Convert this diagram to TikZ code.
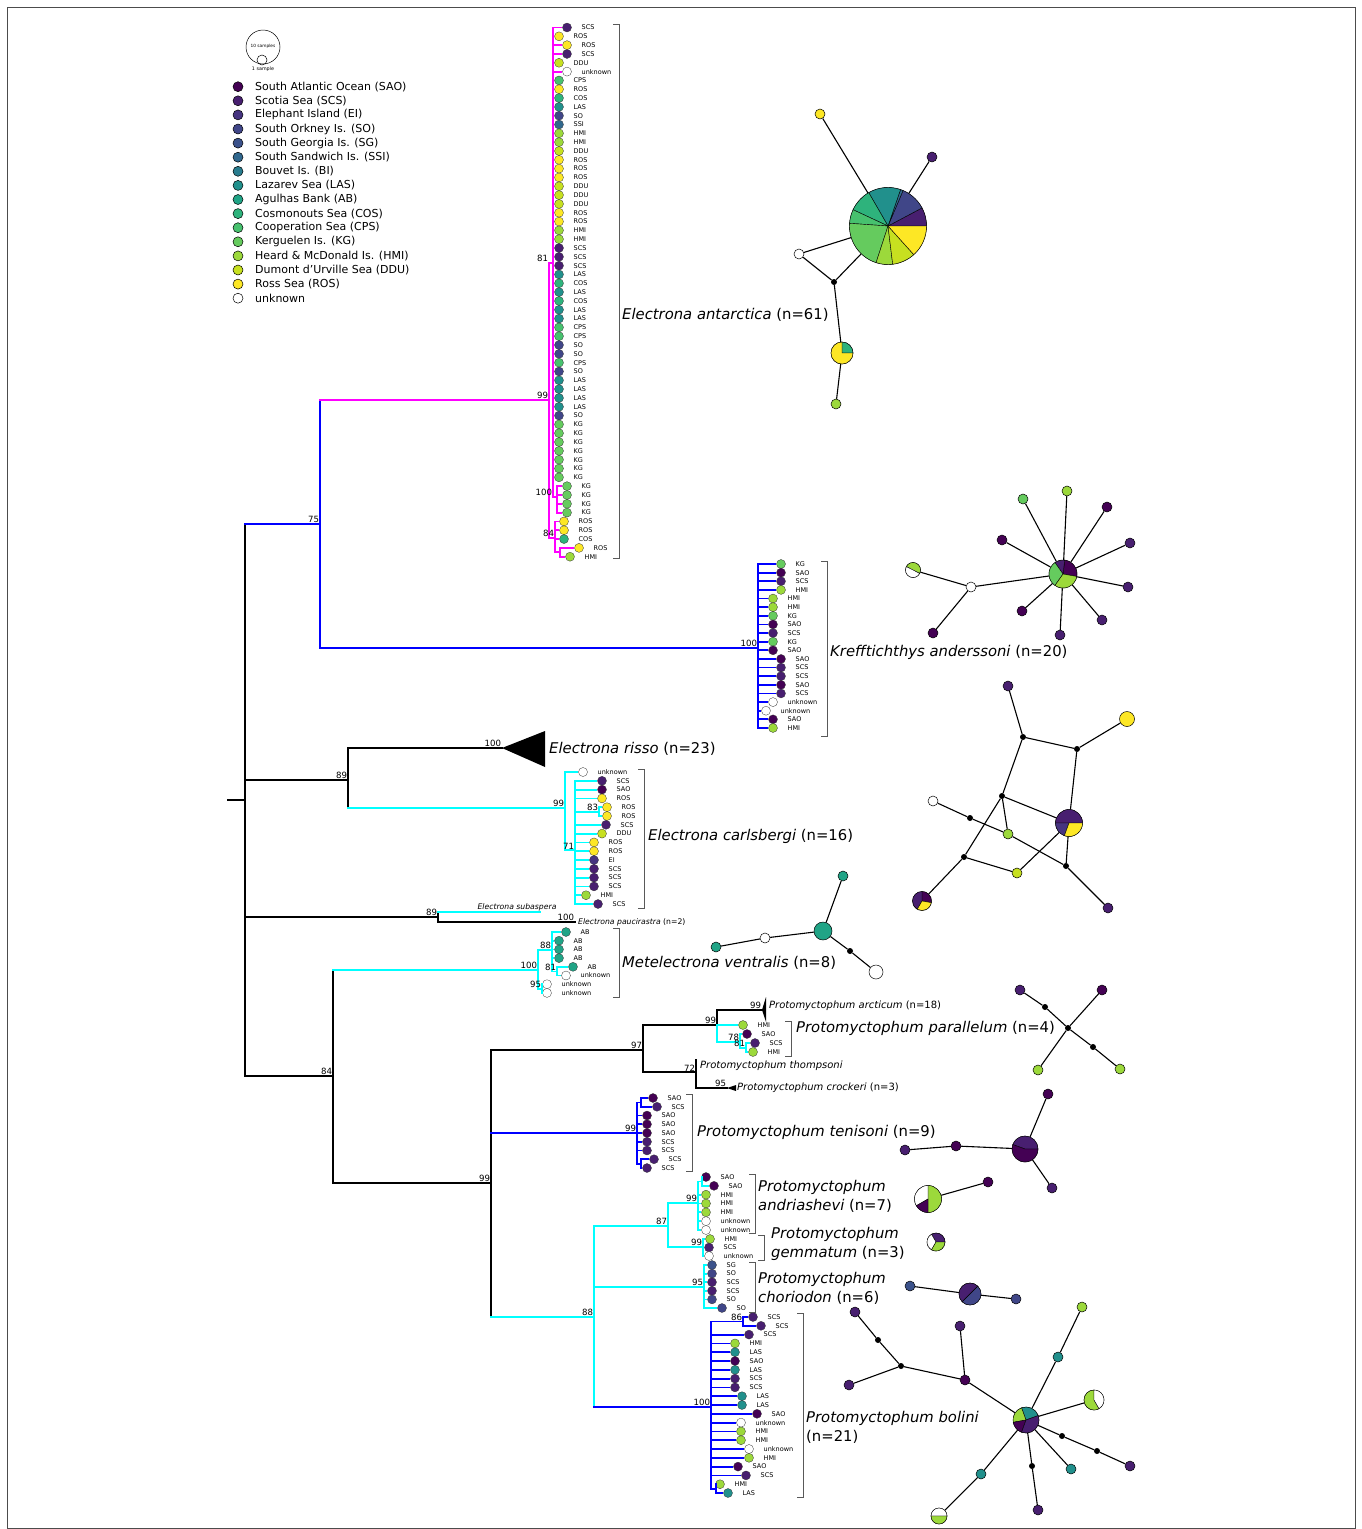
\documentclass[tikz,border=0pt]{standalone}
\usepackage{fontspec}
\setmainfont{DejaVu Sans}
\definecolor{cSAO}{HTML}{440154}
\definecolor{cSCS}{HTML}{481F70}
\definecolor{cEI}{HTML}{463480}
\definecolor{cSO}{HTML}{404688}
\definecolor{cSG}{HTML}{3B528B}
\definecolor{cSSI}{HTML}{31688E}
\definecolor{cBI}{HTML}{287C8E}
\definecolor{cLAS}{HTML}{21908C}
\definecolor{cAB}{HTML}{20A486}
\definecolor{cCOS}{HTML}{2EB37C}
\definecolor{cCPS}{HTML}{47C16E}
\definecolor{cKG}{HTML}{65CB5E}
\definecolor{cHMI}{HTML}{9CD93B}
\definecolor{cDDU}{HTML}{C7E020}
\definecolor{cROS}{HTML}{FDE725}
\colorlet{cunknown}{white}
\definecolor{trcyan}{RGB}{0,255,255}
\definecolor{trmag}{RGB}{255,0,255}
\definecolor{trblue}{RGB}{0,0,255}
% pie slice: node, radius, from, to (degrees, counter-clockwise on the page), colour
\newcommand{\hapslice}[5]{\filldraw[fill=#5, draw=black, line width=0.4pt] (#1.center) -- ++({-(#3)}:#2) arc[start angle={-(#3)}, end angle={-(#4)}, radius=#2] -- cycle;}

\begin{document}
\begin{tikzpicture}[x=1pt, y=-1pt]
\tikzset{
  branch/.style={line width=1.8pt, line cap=rect},
  tipbr/.style={line width=1.8pt},
  tipdot/.style={circle, draw=black!80, line width=0.3pt, inner sep=0pt, minimum size=9pt},
  tiplab/.style={anchor=west, inner sep=0pt, font=\fontsize{6.5}{7}\selectfont},
  boot/.style={anchor=south east, inner sep=0.8pt, font=\fontsize{8.6}{9}\selectfont},
  clade/.style={anchor=west, inner sep=0pt, align=left, font=\fontsize{14.8}{19}\selectfont},
  taxon/.style={anchor=west, inner sep=0pt, font=\fontsize{10}{12}\selectfont\itshape},
  bracket/.style={draw=black!65, line width=0.9pt},
  hap/.style={circle, draw=black, line width=0.5pt, inner sep=0pt, minimum size=10pt},
  med/.style={circle, fill=black, inner sep=0pt, minimum size=6pt},
  link/.style={line width=1.1pt},
  legdot/.style={circle, draw=black, line width=0.5pt, inner sep=0pt, minimum size=10pt},
  legtxt/.style={anchor=west, inner sep=0pt, font=\fontsize{11}{13}\selectfont}
}
\useasboundingbox (0,0) rectangle (1362,1529);
\draw[black!70, line width=0.8pt] (7,7) rectangle (1355,1528);

% legend
\node[circle, draw, line width=0.5pt, minimum size=34pt] (lg10) at (263,47) {};
\node[inner sep=0pt, font=\fontsize{4.3}{5}\selectfont] (lg10t) at (263,46) {10 samples};
\node[circle, draw, line width=0.5pt, minimum size=10pt, inner sep=0pt] (lg1) at (262,60) {};
\node[inner sep=0pt, font=\fontsize{4.8}{5}\selectfont] (lg1t) at (263,69) {1 sample};
\foreach \c/\t [count=\i] in {SAO/South Atlantic Ocean (SAO), SCS/Scotia Sea (SCS), EI/Elephant Island (EI),
  SO/South Orkney Is. (SO), SG/South Georgia Is. (SG), SSI/South Sandwich Is. (SSI), BI/Bouvet Is. (BI),
  LAS/Lazarev Sea (LAS), AB/Agulhas Bank (AB), COS/Cosmonouts Sea (COS), CPS/Cooperation Sea (CPS),
  KG/Kerguelen Is. (KG), HMI/Heard \& McDonald Is. (HMI), DDU/Dumont d'Urville Sea (DDU), ROS/Ross Sea (ROS),
  unknown/unknown}{
  \pgfmathsetmacro{\ly}{86.7+(\i-1)*14.1}
  \node[legdot, fill=c\c] (ld\i) at (238,\ly) {};
  \node[legtxt] (lt\i) at (255,\ly) {\t};
}

% backbone
\coordinate (r0) at (228,800);
\coordinate (r) at (245,800);
\coordinate (k75) at (320,524);
\coordinate (k89) at (348,780);
\coordinate (k89s) at (438,917);
\coordinate (k84) at (333,1076);
\draw[branch] (r0) -- (r);
\draw[branch] (r |- k75) -- (r |- k84);
\draw[branch, trblue] (r |- k75) -- (k75);
\draw[branch] (r |- k89) -- (k89);
\draw[branch] (r |- k89s) -- (k89s);
\draw[branch] (r |- k84) -- (k84);

\coordinate (a99) at (549,400);
\coordinate (kr100) at (758,648);
\draw[branch, trblue] (k75 |- a99) -- (k75 |- kr100);
\draw[branch, trmag] (k75 |- a99) -- (a99);
\draw[branch, trblue] (k75 |- kr100) -- (kr100);

\coordinate (ris) at (502,748);
\coordinate (c99) at (565,808);
\draw[branch] (k89 |- ris) -- (k89 |- c99);
\draw[branch] (k89 |- ris) -- (ris);
\draw[branch, trcyan] (k89 |- c99) -- (c99);
\fill (ris) -- (545,731) -- (545,767) -- cycle;

\coordinate (sub) at (540,912);
\coordinate (pau) at (575,922);
\draw[branch] (k89s |- sub) -- (k89s |- pau);
\draw[branch, trcyan] (k89s |- sub) -- (sub);
\draw[branch] (k89s |- pau) -- (pau);

\coordinate (m100) at (538,970);
\coordinate (p99) at (491,1183);
\draw[branch] (k84 |- m100) -- (k84 |- p99);
\draw[branch, trcyan] (k84 |- m100) -- (m100);
\draw[branch] (k84 |- p99) -- (p99);

\coordinate (p97) at (643,1050);
\coordinate (t99) at (637,1133);
\coordinate (p88) at (594,1317);
\draw[branch] (p99 |- p97) -- (p99 |- p88);
\draw[branch] (p99 |- p97) -- (p97);
\draw[branch, trblue] (p99 |- t99) -- (t99);
\draw[branch, trcyan] (p99 |- p88) -- (p88);

\coordinate (q99) at (717,1025);
\coordinate (q72) at (696,1072);
\coordinate (pArc) at (762,1010);
\coordinate (q78) at (740,1042);
\coordinate (q81) at (746,1048);
\coordinate (thp) at (696,1060);
\coordinate (crk) at (727,1088);
\draw[branch] (p97 |- q99) -- (p97 |- q72);
\draw[branch] (p97 |- q99) -- (q99);
\draw[branch] (p97 |- q72) -- (q72);
\draw[branch] (q99 |- pArc) -- (q99);
\draw[branch, trcyan] (q99) -- (q99 |- q78);
\draw[branch] (q99 |- pArc) -- (pArc);
\fill (pArc) -- (766,997) -- (766,1022) -- cycle;
\draw[branch, trcyan] (q99 |- q78) -- (q78);
\draw[branch] (thp) -- (q72 |- crk);
\draw[branch] (q72 |- crk) -- (crk);
\fill (crk) -- (736,1085) -- (736,1091) -- cycle;

\coordinate (p87) at (668,1226);
\coordinate (ch95) at (704,1287);
\coordinate (b100) at (711,1407);
\coordinate (an99) at (698,1203);
\coordinate (g99) at (703,1247);
\draw[branch, trcyan] (p88 |- p87) -- (p88 |- b100);
\draw[branch, trcyan] (p88 |- p87) -- (p87);
\draw[branch, trcyan] (p88 |- ch95) -- (ch95);
\draw[branch, trblue] (p88 |- b100) -- (b100);
\draw[branch, trcyan] (p87 |- an99) -- (p87 |- g99);
\draw[branch, trcyan] (p87 |- an99) -- (an99);
\draw[branch, trcyan] (p87 |- g99) -- (g99);

% Electrona antarctica
\foreach \lab/\dx/\bx [count=\i] in {SCS/567/553, ROS/559/553, ROS/567/553, SCS/567/553, DDU/559/553, unknown/567/553,
  CPS/559/553, ROS/559/553, COS/559/553, LAS/559/553, SO/559/553, SSI/559/553,
  HMI/559/553, HMI/559/553, DDU/559/553, ROS/559/553, ROS/559/553, ROS/559/553,
  DDU/559/553, DDU/559/553, DDU/559/553, ROS/559/553, ROS/559/553, HMI/559/553,
  HMI/559/553, SCS/559/553, SCS/559/553, SCS/559/553, LAS/559/553, COS/559/553,
  LAS/559/553, COS/559/553, LAS/559/553, LAS/559/553, CPS/559/553, CPS/559/553,
  SO/559/553, SO/559/553, CPS/559/553, SO/559/553, LAS/559/553, LAS/559/553,
  LAS/559/553, LAS/559/553, SO/559/553, KG/559/553, KG/559/553, KG/559/553,
  KG/559/553, KG/559/553, KG/559/553, KG/559/553, KG/567/557, KG/567/557,
  KG/567/557, KG/567/557, ROS/564/555, ROS/564/555, COS/564/555, ROS/579/560,
  HMI/570/560}{
  \pgfmathsetmacro{\ty}{27.5+(\i-1)*8.82}
  \coordinate (ea\i) at (\bx,\ty);
  \node[tipdot, fill=c\lab] (et\i) at (\dx,\ty) {};
  \node[tiplab] (el\i) at (\dx+14.5,\ty) {\lab};
  \draw[tipbr, trmag] (ea\i) -- (et\i);
}
\coordinate (a81) at (553,263);
\coordinate (a84) at (555,538);
\coordinate (a100) at (557,497);
\coordinate (a84s) at (560,552);
\draw[branch, trmag] (a99 |- a81) -- (a99 |- a84);
\draw[branch, trmag] (a99 |- a81) -- (a81);
\draw[branch, trmag] (a99 |- a84) -- (a84);
\draw[branch, trmag] (a81 |- ea1) -- (a81 |- a100);
\draw[branch, trmag] (a81 |- a100) -- (a100);
\draw[branch, trmag] (a100 |- ea53) -- (a100 |- ea56);
\draw[branch, trmag] (a84 |- ea57) -- (a84 |- a84s);
\draw[branch, trmag] (a84 |- a84s) -- (a84s);
\draw[branch, trmag] (a84s |- ea60) -- (a84s |- ea61);

% Krefftichthys anderssoni
\foreach \lab/\dx [count=\i] in {KG/781, SAO/781, SCS/781, HMI/781, HMI/773, HMI/773, KG/773, SAO/773, SCS/773, KG/773,
  SAO/773, SAO/781, SCS/781, SCS/781, SAO/781, SCS/781, unknown/773, unknown/766, SAO/773, HMI/773}{
  \pgfmathsetmacro{\ty}{564+(\i-1)*8.63}
  \coordinate (ka\i) at (758,\ty);
  \node[tipdot, fill=c\lab] (kt\i) at (\dx,\ty) {};
  \node[tiplab] (kl\i) at (\dx+14.5,\ty) {\lab};
  \draw[tipbr, trblue] (ka\i) -- (kt\i);
}
\draw[branch, trblue] (ka1) -- (ka20);

% Electrona carlsbergi
\foreach \lab/\dx/\bx [count=\i] in {unknown/583/565, SCS/602/575, SAO/602/575, ROS/602/575, ROS/607/599, ROS/607/599,
  SCS/606/575, DDU/602/575, ROS/594/575, ROS/594/575, EI/594/575, SCS/594/575, SCS/594/575, SCS/594/575,
  HMI/586/575, SCS/598/575}{
  \pgfmathsetmacro{\ty}{772+(\i-1)*8.8}
  \coordinate (ca\i) at (\bx,\ty);
  \node[tipdot, fill=c\lab] (ct\i) at (\dx,\ty) {};
  \node[tiplab] (cl\i) at (\dx+14.5,\ty) {\lab};
  \draw[tipbr, trcyan] (ca\i) -- (ct\i);
}
\coordinate (c71) at (575,850);
\coordinate (c83) at (599,811.6);
\draw[branch, trcyan] (c99 |- ca1) -- (c99 |- c71);
\draw[branch, trcyan] (c99 |- c71) -- (c71);
\draw[branch, trcyan] (c71 |- ca2) -- (c71 |- ca16);
\draw[branch, trcyan] (c71 |- c83) -- (c83);
\draw[branch, trcyan] (c83 |- ca5) -- (c83 |- ca6);

% Metelectrona ventralis
\foreach \lab/\dx/\bx [count=\i] in {AB/566/552, AB/559/552, AB/559/552, AB/559/552, AB/573/557, unknown/566/557,
  unknown/547/542, unknown/547/542}{
  \pgfmathsetmacro{\ty}{932+(\i-1)*8.7}
  \coordinate (ma\i) at (\bx,\ty);
  \node[tipdot, fill=c\lab] (mt\i) at (\dx,\ty) {};
  \node[tiplab] (ml\i) at (\dx+14.5,\ty) {\lab};
  \draw[tipbr, trcyan] (ma\i) -- (mt\i);
}
\coordinate (m88) at (552,950);
\coordinate (m81) at (557,971.5);
\coordinate (m95) at (542,989);
\draw[branch, trcyan] (m100 |- m88) -- (m100 |- m95);
\draw[branch, trcyan] (m100 |- m88) -- (m88);
\draw[branch, trcyan] (m100 |- m95) -- (m95);
\draw[branch, trcyan] (m88 |- ma1) -- (m88 |- m81);
\draw[branch, trcyan] (m88 |- m81) -- (m81);
\draw[branch, trcyan] (m81 |- ma5) -- (m81 |- ma6);
\draw[branch, trcyan] (m95 |- ma7) -- (m95 |- ma8);

% Protomyctophum parallelum
\foreach \lab/\dx/\bx [count=\i] in {HMI/743/717, SAO/747/740, SCS/755/746, HMI/753/746}{
  \pgfmathsetmacro{\ty}{1025+(\i-1)*9}
  \coordinate (pa\i) at (\bx,\ty);
  \node[tipdot, fill=c\lab] (pt\i) at (\dx,\ty) {};
  \node[tiplab] (pl\i) at (\dx+14.5,\ty) {\lab};
  \draw[tipbr, trcyan] (pa\i) -- (pt\i);
}
\draw[branch, trcyan] (q78 |- pa2) -- (q78 |- q81);
\draw[branch, trcyan] (q78 |- q81) -- (q81);
\draw[branch, trcyan] (q81 |- pa3) -- (q81 |- pa4);

% Protomyctophum tenisoni
\foreach \lab/\dx/\bx [count=\i] in {SAO/653/641, SCS/657/641, SAO/647/637, SAO/647/637, SAO/647/637, SCS/647/637,
  SCS/647/637, SCS/654/641, SCS/647/641}{
  \pgfmathsetmacro{\ty}{1098+(\i-1)*8.75}
  \coordinate (ta\i) at (\bx,\ty);
  \node[tipdot, fill=c\lab] (tt\i) at (\dx,\ty) {};
  \node[tiplab] (tl\i) at (\dx+14.5,\ty) {\lab};
  \draw[tipbr, trblue] (ta\i) -- (tt\i);
}
\coordinate (t1) at (641,1102.4);
\coordinate (t2) at (641,1164);
\draw[branch, trblue] (t99 |- t1) -- (t99 |- t2);
\draw[branch, trblue] (t99 |- t1) -- (t1);
\draw[branch, trblue] (t99 |- t2) -- (t2);
\draw[branch, trblue] (t1 |- ta1) -- (t1 |- ta2);
\draw[branch, trblue] (t2 |- ta8) -- (t2 |- ta9);

% Protomyctophum andriashevi
\foreach \lab/\dx/\bx [count=\i] in {SAO/706/702, SAO/714/702, HMI/706/698, HMI/706/698, HMI/706/698,
  unknown/706/698, unknown/706/698}{
  \pgfmathsetmacro{\ty}{1177+(\i-1)*8.83}
  \coordinate (na\i) at (\bx,\ty);
  \node[tipdot, fill=c\lab] (nt\i) at (\dx,\ty) {};
  \node[tiplab] (nl\i) at (\dx+14.5,\ty) {\lab};
  \draw[tipbr, trcyan] (na\i) -- (nt\i);
}
\coordinate (an1) at (702,1181.4);
\draw[branch, trcyan] (an99 |- an1) -- (an99 |- na7);
\draw[branch, trcyan] (an99 |- an1) -- (an1);
\draw[branch, trcyan] (an1 |- na1) -- (an1 |- na2);

% Protomyctophum gemmatum
\foreach \lab/\dx [count=\i] in {HMI/710, SCS/709, unknown/709}{
  \pgfmathsetmacro{\ty}{1239+(\i-1)*8.5}
  \coordinate (ga\i) at (703,\ty);
  \node[tipdot, fill=c\lab] (gt\i) at (\dx,\ty) {};
  \node[tiplab] (gl\i) at (\dx+14.5,\ty) {\lab};
  \draw[tipbr, trcyan] (ga\i) -- (gt\i);
}
\draw[branch, trcyan] (ga1) -- (ga3);

% Protomyctophum choriodon
\foreach \lab/\dx [count=\i] in {SG/712, SO/712, SCS/712, SCS/712, SO/712, SO/722}{
  \pgfmathsetmacro{\ty}{1265+(\i-1)*8.6}
  \coordinate (ra\i) at (704,\ty);
  \node[tipdot, fill=c\lab] (rt\i) at (\dx,\ty) {};
  \node[tiplab] (rl\i) at (\dx+14.5,\ty) {\lab};
  \draw[tipbr, trcyan] (ra\i) -- (rt\i);
}
\draw[branch, trcyan] (ra1) -- (ra6);

% Protomyctophum bolini
\foreach \lab/\dx/\bx [count=\i] in {SCS/753/743, SCS/761/743, SCS/749/711, HMI/735/711, LAS/735/711, SAO/735/711,
  LAS/735/711, SCS/735/711, SCS/735/711, LAS/742/711, LAS/742/711, SAO/757/711, unknown/741/711,
  HMI/741/711, HMI/741/711, unknown/749/711, HMI/749/711, SAO/738/711, SCS/746/711, HMI/720/716, LAS/728/716}{
  \pgfmathsetmacro{\ty}{1317+(\i-1)*8.8}
  \coordinate (ba\i) at (\bx,\ty);
  \node[tipdot, fill=c\lab] (bt\i) at (\dx,\ty) {};
  \node[tiplab] (bl\i) at (\dx+14.5,\ty) {\lab};
  \draw[tipbr, trblue] (ba\i) -- (bt\i);
}
\coordinate (b86) at (743,1321.4);
\coordinate (b1s) at (716,1488.6);
\draw[branch, trblue] (b100 |- b86) -- (b100 |- b1s);
\draw[branch, trblue] (b100 |- b86) -- (b86);
\draw[branch, trblue] (b100 |- b1s) -- (b1s);
\draw[branch, trblue] (b86 |- ba1) -- (b86 |- ba2);
\draw[branch, trblue] (b1s |- ba20) -- (b1s |- ba21);

% support values
\node[boot] (s1) at (k75) {75};
\node[boot] (s2) at (a99) {99};
\node[boot] (s3) at (a99 |- a81) {81};
\node[boot] (s4) at (a81 |- a100) {100};
\node[boot] (s5) at (a84) {84};
\node[boot] (s6) at (kr100) {100};
\node[boot] (s7) at (k89) {89};
\node[boot] (s8) at (ris) {100};
\node[boot] (s9) at (c99) {99};
\node[boot] (s10) at (c71) {71};
\node[boot] (s11) at (c83) {83};
\node[boot] (s12) at (k89s) {89};
\node[boot] (s13) at (pau) {100};
\node[boot] (s14) at (m100) {100};
\node[boot] (s15) at (m88) {88};
\node[boot] (s16) at (m81) {81};
\node[boot] (s17) at (m95) {95};
\node[boot] (s18) at (k84) {84};
\node[boot] (s19) at (p99) {99};
\node[boot] (s20) at (p97) {97};
\node[boot] (s21) at (q99) {99};
\node[boot] (s22) at (pArc) {99};
\node[boot] (s23) at (q78) {78};
\node[boot] (s24) at (q81) {81};
\node[boot] (s25) at (q72) {72};
\node[boot] (s26) at (crk) {95};
\node[boot] (s27) at (t99) {99};
\node[boot] (s28) at (p88) {88};
\node[boot] (s29) at (p87) {87};
\node[boot] (s30) at (an99) {99};
\node[boot] (s31) at (g99) {99};
\node[boot] (s32) at (ch95) {95};
\node[boot] (s33) at (b100) {100};
\node[boot] (s34) at (b86) {86};

% single taxa
\node[taxon, font=\fontsize{7.7}{9}\selectfont\itshape, anchor=south] (tsub) at (517,911) {Electrona subaspera};
\node[taxon, font=\fontsize{7.7}{9}\selectfont\itshape] (tpau) at (578,922) {Electrona paucirastra \textup{(n=2)}};
\node[taxon] (tarc) at (769,1006) {Protomyctophum arcticum \textup{(n=18)}};
\node[taxon] (tthp) at (700,1066) {Protomyctophum thompsoni};
\node[taxon] (tcrk) at (737,1088) {Protomyctophum crockeri \textup{(n=3)}};

% clades
\draw[bracket] (613,24) -- (619,24) -- (619,558) -- (613,558);
\draw[bracket] (821,561) -- (827,561) -- (827,736) -- (821,736);
\draw[bracket] (638,769) -- (644,769) -- (644,908) -- (638,908);
\draw[bracket] (613,928) -- (619,928) -- (619,997) -- (613,997);
\draw[bracket] (785,1021) -- (791,1021) -- (791,1056) -- (785,1056);
\draw[bracket] (686,1094) -- (692,1094) -- (692,1171) -- (686,1171);
\draw[bracket] (749,1174) -- (755,1174) -- (755,1233) -- (749,1233);
\draw[bracket] (758,1235) -- (764,1235) -- (764,1260) -- (758,1260);
\draw[bracket] (749,1262) -- (755,1262) -- (755,1312) -- (749,1312);
\draw[bracket] (797,1313) -- (803,1313) -- (803,1497) -- (797,1497);
\node[clade] (lant) at (622,315) {\textit{Electrona antarctica} (n=61)};
\node[clade] (lkre) at (830,652) {\textit{Krefftichthys anderssoni} (n=20)};
\node[clade] (lris) at (549,749) {\textit{Electrona risso} (n=23)};
\node[clade] (lcar) at (648,836) {\textit{Electrona carlsbergi} (n=16)};
\node[clade] (lmet) at (622,963) {\textit{Metelectrona ventralis} (n=8)};
\node[clade] (lpar) at (796,1028) {\textit{Protomyctophum parallelum} (n=4)};
\node[clade] (lten) at (697,1132) {\textit{Protomyctophum tenisoni} (n=9)};
\node[clade] (land) at (758,1196) {\textit{Protomyctophum}\\\textit{andriashevi} (n=7)};
\node[clade] (lgem) at (771,1244) {\textit{Protomyctophum}\\\textit{gemmatum} (n=3)};
\node[clade] (lcho) at (758,1288) {\textit{Protomyctophum}\\\textit{choriodon} (n=6)};
\node[clade] (lbol) at (806,1427) {\textit{Protomyctophum bolini}\\(n=21)};

% haplotype network: E. antarctica
\node[hap, minimum size=77pt] (h1) at (888,226) {};
\node[hap, fill=cROS] (h1a) at (820,114) {};
\node[hap, fill=cSCS] (h1b) at (932,157) {};
\node[hap, fill=white] (h1c) at (799,254) {};
\node[med] (m1) at (834,282) {};
\node[hap, minimum size=22pt] (h1d) at (842,353) {};
\node[hap, fill=cHMI] (h1e) at (836,404) {};
\draw[link] (h1a) -- (h1);
\draw[link] (h1b) -- (h1);
\draw[link] (h1c) -- (h1);
\draw[link] (h1c) -- (m1);
\draw[link] (m1) -- (h1);
\draw[link] (m1) -- (h1d);
\draw[link] (h1d) -- (h1e);
\hapslice{h1}{38.5}{0}{28}{cSCS}
\hapslice{h1}{38.5}{28}{67}{cSO}
\hapslice{h1}{38.5}{67}{71}{cSSI}
\hapslice{h1}{38.5}{71}{120}{cLAS}
\hapslice{h1}{38.5}{120}{155}{cCOS}
\hapslice{h1}{38.5}{155}{176}{cCPS}
\hapslice{h1}{38.5}{176}{252}{cKG}
\hapslice{h1}{38.5}{252}{277}{cHMI}
\hapslice{h1}{38.5}{277}{312}{cDDU}
\hapslice{h1}{38.5}{312}{360}{cROS}
\hapslice{h1d}{11}{0}{90}{cCOS}
\hapslice{h1d}{11}{90}{360}{cROS}

% haplotype network: K. anderssoni
\node[hap, minimum size=28pt] (h2) at (1063,574) {};
\node[hap, fill=cKG] (h2a) at (1023,499) {};
\node[hap, fill=cHMI] (h2b) at (1067,491) {};
\node[hap, fill=cSAO] (h2c) at (1107,507) {};
\node[hap, fill=cSCS] (h2d) at (1130,543) {};
\node[hap, fill=cSCS] (h2e) at (1128,587) {};
\node[hap, fill=cSCS] (h2f) at (1102,620) {};
\node[hap, fill=cSCS] (h2g) at (1060,635) {};
\node[hap, fill=cSAO] (h2h) at (1022,611) {};
\node[hap, fill=cSAO] (h2i) at (1002,540) {};
\node[hap, fill=white] (h2j) at (971,587) {};
\node[hap, minimum size=15pt] (h2k) at (913,570) {};
\node[hap, fill=cSAO] (h2l) at (933,633) {};
\foreach \s in {h2a,h2b,h2c,h2d,h2e,h2f,h2g,h2h,h2i,h2j}
  \draw[link] (\s) -- (h2);
\draw[link] (h2j) -- (h2k);
\draw[link] (h2j) -- (h2l);
\hapslice{h2}{14}{-10}{83}{cSAO}
\hapslice{h2}{14}{83}{125}{cSCS}
\hapslice{h2}{14}{125}{235}{cKG}
\hapslice{h2}{14}{235}{350}{cHMI}
\hapslice{h2k}{7.5}{-27}{153}{cHMI}
\hapslice{h2k}{7.5}{153}{333}{white}

% haplotype network: E. carlsbergi
\node[hap, fill=cSCS] (h3a) at (1008,686) {};
\node[med] (m3a) at (1023,737) {};
\node[med] (m3b) at (1077,749) {};
\node[hap, fill=cROS, minimum size=15pt] (h3b) at (1127,719) {};
\node[med] (m3c) at (1002,796) {};
\node[hap, fill=white] (h3c) at (933,801) {};
\node[med] (m3d) at (970,818) {};
\node[hap, minimum size=27pt] (h3) at (1069,823) {};
\node[hap, fill=cHMI] (h3d) at (1008,834) {};
\node[med] (m3e) at (964,857) {};
\node[hap, fill=cDDU] (h3e) at (1017,873) {};
\node[med] (m3f) at (1066,866) {};
\node[hap, minimum size=19pt] (h3f) at (922,901) {};
\node[hap, fill=cSCS] (h3g) at (1108,908) {};
\draw[link] (h3a) -- (m3a);
\draw[link] (m3a) -- (m3b);
\draw[link] (m3b) -- (h3b);
\draw[link] (m3a) -- (m3c);
\draw[link] (m3b) -- (h3);
\draw[link] (m3c) -- (h3);
\draw[link] (m3c) -- (h3d);
\draw[link] (m3c) -- (m3e);
\draw[link] (h3c) -- (m3d);
\draw[link] (m3d) -- (h3d);
\draw[link] (h3d) -- (m3f);
\draw[link] (h3) -- (m3f);
\draw[link] (m3f) -- (h3g);
\draw[link] (h3) -- (h3e);
\draw[link] (m3e) -- (h3e);
\draw[link] (m3e) -- (h3f);
\hapslice{h3}{13.5}{0}{180}{cSCS}
\hapslice{h3}{13.5}{180}{250}{cEI}
\hapslice{h3}{13.5}{250}{360}{cROS}
\hapslice{h3f}{9.5}{-10}{90}{cSAO}
\hapslice{h3f}{9.5}{90}{240}{cSCS}
\hapslice{h3f}{9.5}{240}{350}{cROS}

% haplotype network: M. ventralis
\node[hap, fill=cAB] (h4a) at (843,876) {};
\node[hap, fill=cAB, minimum size=18pt] (h4) at (823,931) {};
\node[hap, fill=white] (h4b) at (765,938) {};
\node[hap, fill=cAB] (h4c) at (716,947) {};
\node[med] (m4) at (850,951) {};
\node[hap, fill=white, minimum size=14pt] (h4d) at (876,972) {};
\draw[link] (h4a) -- (h4);
\draw[link] (h4c) -- (h4b);
\draw[link] (h4b) -- (h4);
\draw[link] (h4) -- (m4);
\draw[link] (m4) -- (h4d);

% haplotype network: P. parallelum
\node[hap, fill=cSCS] (h5a) at (1020,990) {};
\node[med] (m5a) at (1045,1007) {};
\node[med] (m5) at (1068,1028) {};
\node[hap, fill=cSAO] (h5b) at (1102,990) {};
\node[med] (m5b) at (1093,1047) {};
\node[hap, fill=cHMI] (h5c) at (1120,1069) {};
\node[hap, fill=cHMI] (h5d) at (1038,1070) {};
\draw[link] (h5a) -- (m5a);
\draw[link] (m5a) -- (m5);
\draw[link] (h5b) -- (m5);
\draw[link] (m5) -- (m5b);
\draw[link] (m5b) -- (h5c);
\draw[link] (m5) -- (h5d);

% haplotype network: P. tenisoni
\node[hap, minimum size=26pt] (h6) at (1025,1149) {};
\node[hap, fill=cSAO] (h6a) at (1048,1094) {};
\node[hap, fill=cSAO] (h6b) at (956,1146) {};
\node[hap, fill=cSCS] (h6c) at (905,1150) {};
\node[hap, fill=cSCS] (h6d) at (1052,1188) {};
\draw[link] (h6c) -- (h6b);
\draw[link] (h6b) -- (h6);
\draw[link] (h6a) -- (h6);
\draw[link] (h6) -- (h6d);
\hapslice{h6}{13}{0}{160}{cSCS}
\hapslice{h6}{13}{160}{360}{cSAO}

% haplotype network: P. andriashevi
\node[hap, minimum size=27pt] (h7) at (928,1199) {};
\node[hap, fill=cSAO] (h7a) at (988,1182) {};
\draw[link] (h7) -- (h7a);
\hapslice{h7}{13.5}{-90}{90}{cHMI}
\hapslice{h7}{13.5}{90}{210}{white}
\hapslice{h7}{13.5}{210}{270}{cSAO}

% haplotype network: P. gemmatum
\node[hap, minimum size=18pt] (h8) at (936,1242) {};
\hapslice{h8}{9}{0}{120}{cSCS}
\hapslice{h8}{9}{120}{240}{white}
\hapslice{h8}{9}{240}{360}{cHMI}

% haplotype network: P. choriodon
\node[hap, fill=cSG] (h9a) at (910,1286) {};
\node[hap, minimum size=22pt] (h9) at (970,1294) {};
\node[hap, fill=cSO] (h9b) at (1016,1299) {};
\draw[link] (h9a) -- (h9);
\draw[link] (h9) -- (h9b);
\hapslice{h9}{11}{45}{225}{cSCS}
\hapslice{h9}{11}{225}{405}{cSO}

% haplotype network: P. bolini
\node[hap, minimum size=26pt] (h10) at (1026,1420) {};
\node[hap, fill=cSCS] (h10a) at (855,1312) {};
\node[med] (m10a) at (878,1340) {};
\node[med] (m10b) at (901,1366) {};
\node[hap, fill=cSCS] (h10b) at (849,1385) {};
\node[hap, fill=cSCS] (h10c) at (960,1326) {};
\node[hap, fill=cSAO] (h10d) at (965,1380) {};
\node[hap, fill=cHMI] (h10e) at (1082,1307) {};
\node[hap, fill=cLAS] (h10f) at (1058,1357) {};
\node[hap, minimum size=20pt] (h10g) at (1094,1400) {};
\node[med] (m10c) at (1062,1436) {};
\node[med] (m10d) at (1097,1451) {};
\node[hap, fill=cSCS] (h10h) at (1130,1466) {};
\node[hap, fill=cLAS] (h10i) at (1071,1469) {};
\node[med] (m10e) at (1032,1466) {};
\node[hap, fill=cSCS] (h10j) at (1038,1510) {};
\node[hap, fill=cLAS] (h10k) at (981,1474) {};
\node[hap, minimum size=16pt] (h10l) at (939,1516) {};
\draw[link] (h10a) -- (m10a);
\draw[link] (m10a) -- (m10b);
\draw[link] (h10b) -- (m10b);
\draw[link] (m10b) -- (h10d);
\draw[link] (h10c) -- (h10d);
\draw[link] (h10d) -- (h10);
\draw[link] (h10e) -- (h10f);
\draw[link] (h10f) -- (h10);
\draw[link] (h10g) -- (h10);
\draw[link] (h10) -- (m10c);
\draw[link] (m10c) -- (m10d);
\draw[link] (m10d) -- (h10h);
\draw[link] (h10) -- (h10i);
\draw[link] (h10) -- (m10e);
\draw[link] (m10e) -- (h10j);
\draw[link] (h10) -- (h10k);
\draw[link] (h10k) -- (h10l);
\hapslice{h10}{13}{20}{110}{cLAS}
\hapslice{h10}{13}{110}{190}{cHMI}
\hapslice{h10}{13}{190}{250}{cSAO}
\hapslice{h10}{13}{250}{380}{cSCS}
\hapslice{h10g}{10}{90}{300}{cHMI}
\hapslice{h10g}{10}{300}{450}{white}
\hapslice{h10l}{8}{0}{180}{white}
\hapslice{h10l}{8}{180}{360}{cHMI}
\end{tikzpicture}
\end{document}
